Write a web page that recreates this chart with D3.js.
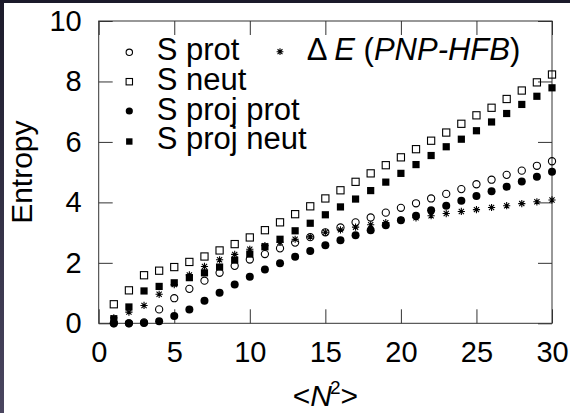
<!DOCTYPE html>
<html>
<head>
<meta charset="utf-8">
<script src="https://cdn.jsdelivr.net/npm/d3@7"></script>
<style>
  html, body { margin: 0; padding: 0; background: #fff; }
  svg { display: block; font-family: "Liberation Sans", Arial, sans-serif; }
</style>
</head>
<body>
<svg id="chart" width="570" height="413"></svg>
<script>
// <N^2> values (x) and the five series
const nSq = [1, 2, 3, 4, 5, 6, 7, 8, 9, 10, 11, 12, 13, 14, 15,
             16, 17, 18, 19, 20, 21, 22, 23, 24, 25, 26, 27, 28, 29, 30];

const sProt = [0, 0, 0.03, 0.46, 0.83, 1.14, 1.41, 1.67, 1.90, 2.11, 2.29, 2.48, 2.67, 2.85, 3.01,
               3.17, 3.34, 3.50, 3.66, 3.82, 3.97, 4.13, 4.28, 4.44, 4.60, 4.75, 4.91, 5.05, 5.21, 5.36];

const sNeut = [0.63, 1.09, 1.59, 1.74, 1.86, 2.03, 2.21, 2.41, 2.62, 2.84, 3.08, 3.34, 3.61, 3.87, 4.13,
               4.40, 4.68, 4.96, 5.23, 5.49, 5.76, 6.04, 6.31, 6.60, 6.88, 7.13, 7.42, 7.70, 7.97, 8.23];

const sProjProt = [0, 0, 0.01, 0.07, 0.24, 0.46, 0.75, 1.01, 1.28, 1.54, 1.78, 1.99, 2.20, 2.39, 2.58,
                   2.75, 2.91, 3.08, 3.24, 3.41, 3.56, 3.74, 3.89, 4.05, 4.21, 4.37, 4.52, 4.69, 4.85, 5.01];

const sProjNeut = [0.15, 0.54, 1.07, 1.22, 1.34, 1.51, 1.67, 1.86, 2.09, 2.29, 2.53, 2.78, 3.06, 3.31, 3.59,
                   3.85, 4.11, 4.39, 4.67, 4.96, 5.25, 5.55, 5.84, 6.09, 6.37, 6.66, 6.94, 7.24, 7.51, 7.79];

const deltaE = [0.18, 0.37, 0.59, 0.96, 1.28, 1.60, 1.88, 2.10, 2.28, 2.45, 2.57, 2.68, 2.78, 2.86, 3.01,
                3.09, 3.18, 3.26, 3.33, 3.42, 3.49, 3.56, 3.63, 3.70, 3.76, 3.83, 3.89, 3.96, 4.02, 4.08];

const xTicks = [0, 5, 10, 15, 20, 25, 30];
const yTicks = [0, 2, 4, 6, 8, 10];

const series = [
  { name: 'S prot',      values: sProt,     marker: 'openCircle' },
  { name: 'S neut',      values: sNeut,     marker: 'openSquare' },
  { name: 'S proj prot', values: sProjProt, marker: 'filledCircle' },
  { name: 'S proj neut', values: sProjNeut, marker: 'filledSquare' },
  { name: 'dE',          values: deltaE,    marker: 'star' }
];

// layout
const svg = d3.select('#chart');
const W = 570, H = 413;
const plot = { left: 98.7, right: 552, top: 21, bottom: 323.3 };
const TICK = 14;

const x = d3.scaleLinear().domain([0, 30]).range([plot.left, plot.right]);
const y = d3.scaleLinear().domain([0, 10]).range([plot.bottom, plot.top]);

// dark frame of the screenshot
const defs = svg.append('defs');
const grad = defs.append('linearGradient').attr('id', 'edge').attr('x1', 0).attr('y1', 0).attr('x2', 0).attr('y2', 1);
grad.append('stop').attr('offset', '0%').attr('stop-color', '#1c1b2b');
grad.append('stop').attr('offset', '100%').attr('stop-color', '#4a4660');
svg.append('rect').attr('x', 0).attr('y', 0).attr('width', 4).attr('height', H).attr('fill', 'url(#edge)');
svg.append('rect').attr('x', 0).attr('y', 0).attr('width', W).attr('height', 3).attr('fill', '#1b1a2a');

// axes (ticks pointing inward, mirrored on all sides)
const axisColor = '#333';
function styleAxis(g) {
  g.select('.domain').remove();
  g.selectAll('.tick line').attr('stroke', axisColor).attr('stroke-width', 1);
  g.selectAll('.tick text').attr('fill', '#000').attr('font-size', 29);
}

svg.append('g')
  .attr('transform', `translate(0,${plot.bottom})`)
  .call(d3.axisBottom(x).tickValues(xTicks).tickSize(-TICK).tickPadding(18).tickFormat(d3.format('d')))
  .call(styleAxis)
  .attr('font-family', null);

svg.append('g')
  .attr('transform', `translate(0,${plot.top})`)
  .call(d3.axisTop(x).tickValues(xTicks).tickSize(-TICK).tickFormat(''))
  .call(styleAxis);

svg.append('g')
  .attr('transform', `translate(${plot.left},0)`)
  .call(d3.axisLeft(y).tickValues(yTicks).tickSize(-TICK).tickPadding(17).tickFormat(d3.format('d')))
  .call(styleAxis)
  .attr('font-family', null);

svg.append('g')
  .attr('transform', `translate(${plot.right},0)`)
  .call(d3.axisRight(y).tickValues(yTicks).tickSize(-TICK).tickFormat(''))
  .call(styleAxis);

svg.append('rect')
  .attr('x', plot.left).attr('y', plot.top)
  .attr('width', plot.right - plot.left).attr('height', plot.bottom - plot.top)
  .attr('fill', 'none').attr('stroke', axisColor).attr('stroke-width', 1);

// axis titles
svg.append('text')
  .attr('transform', `translate(31.5,${(plot.top + plot.bottom) / 2}) rotate(-90)`)
  .attr('text-anchor', 'middle').attr('font-size', 30)
  .text('Entropy');

const xt = svg.append('text')
  .attr('x', (plot.left + plot.right) / 2).attr('y', 406)
  .attr('text-anchor', 'middle').attr('font-size', 30);
xt.append('tspan').text('<');
xt.append('tspan').attr('font-style', 'italic').text('N');
xt.append('tspan').attr('font-size', 19).attr('dy', -12).attr('dx', -2).text('2');
xt.append('tspan').attr('dy', 12).text('>');

// markers
function drawMarker(sel, type, r) {
  if (type === 'openCircle') {
    sel.append('circle').attr('r', r).attr('fill', 'none').attr('stroke', '#000').attr('stroke-width', 1.1);
  } else if (type === 'filledCircle') {
    sel.append('circle').attr('r', r + 0.4).attr('fill', '#000');
  } else if (type === 'openSquare') {
    sel.append('rect').attr('x', -r).attr('y', -r).attr('width', 2 * r).attr('height', 2 * r)
      .attr('fill', 'none').attr('stroke', '#000').attr('stroke-width', 1.1);
  } else if (type === 'filledSquare') {
    sel.append('rect').attr('x', -r).attr('y', -r).attr('width', 2 * r).attr('height', 2 * r).attr('fill', '#000');
  } else if (type === 'star') {
    const s = r, d = r * 0.72;
    sel.append('path')
      .attr('d', `M${-s},0H${s}M0,${-s}V${s}M${-d},${-d}L${d},${d}M${-d},${d}L${d},${-d}`)
      .attr('stroke', '#000').attr('stroke-width', 1.1).attr('fill', 'none');
  }
}

series.forEach(s => {
  svg.append('g').selectAll('g')
    .data(nSq.map((n, i) => [n, s.values[i]]))
    .join('g')
    .attr('transform', d => `translate(${x(d[0])},${y(d[1])})`)
    .each(function () { drawMarker(d3.select(this), s.marker, 3.6); });
});

// legend
const legendRows = [
  { marker: 'openCircle',   label: 'S prot',      mx: 129.3, my: 52.3, tx: 156.7, ty: 60 },
  { marker: 'openSquare',   label: 'S neut',      mx: 129.3, my: 81.7, tx: 156.7, ty: 90 },
  { marker: 'filledCircle', label: 'S proj prot', mx: 129.3, my: 111,  tx: 156.7, ty: 119.5 },
  { marker: 'filledSquare', label: 'S proj neut', mx: 129.3, my: 141.5, tx: 156.7, ty: 149 }
];

legendRows.forEach(r => {
  const g = svg.append('g').attr('transform', `translate(${r.mx},${r.my})`);
  drawMarker(g, r.marker, 3.2);
  svg.append('text').attr('x', r.tx).attr('y', r.ty).attr('font-size', 31).text(r.label);
});

const gStar = svg.append('g').attr('transform', 'translate(280,51.7)');
drawMarker(gStar, 'star', 3.4);
const lt = svg.append('text').attr('x', 306.7).attr('y', 60).attr('font-size', 31);
lt.append('tspan').text('\u0394 ');
lt.append('tspan').attr('font-style', 'italic').text('E');
lt.append('tspan').text(' (');
lt.append('tspan').attr('font-style', 'italic').text('PNP-HFB');
lt.append('tspan').text(')');
</script>
</body>
</html>
